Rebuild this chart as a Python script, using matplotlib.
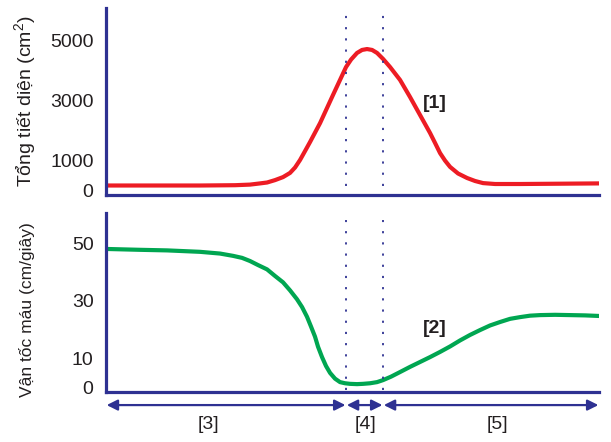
import matplotlib
matplotlib.use("Agg")
import matplotlib.pyplot as plt

plt.rcParams['font.family'] = ['Liberation Sans', 'DejaVu Sans']
plt.rcParams['mathtext.fontset'] = 'custom'
plt.rcParams['mathtext.rm'] = 'Liberation Sans'
plt.rcParams['mathtext.it'] = 'Liberation Sans'

# distance along the vessel tree (arbitrary units, 0..100)
x_area = [0, 19.07, 26.17, 29.21, 31.24, 32.66, 34.28, 35.90, 37.32, 38.34,
          39.35, 40.37, 41.38, 43.41, 46.04, 47.46, 48.68, 49.70, 50.91,
          51.93, 52.94, 53.96, 54.97, 56.19, 57.61, 59.63, 61.66, 63.69,
          65.72, 66.73, 67.75, 68.76, 69.78, 71.40, 73.23, 74.85, 76.47,
          78.90, 83.98, 92.09, 100]
# total cross-section (cm2)
area = [150, 150, 160, 180, 220, 250, 330, 430, 570, 750,
        1000, 1300, 1600, 2230, 3170, 3670, 4100, 4350, 4570,
        4670, 4700, 4670, 4570, 4370, 4100, 3670, 3100, 2500,
        1900, 1570, 1230, 980, 770, 550, 400, 300, 230,
        200, 200, 210, 220]

x_speed = [0, 6.90, 12.37, 19.07, 23.12, 25.76, 27.59, 29.21, 30.83, 32.66,
           34.28, 35.90, 37.32, 38.74, 39.76, 40.77, 41.58, 42.39, 43.00,
           43.81, 44.62, 45.44, 46.45, 47.46, 48.48, 49.49, 50.91, 52.13,
           53.55, 54.97, 56.19, 57.81, 59.63, 61.66, 63.69, 65.72, 67.75,
           69.78, 71.81, 73.83, 75.86, 77.89, 79.92, 81.95, 83.98, 86.00,
           88.03, 91.08, 94.12, 97.16, 100]
# blood speed (cm/s)
speed = [48.0, 47.7, 47.5, 47.0, 46.4, 45.6, 44.9, 43.8, 42.4, 40.9,
         38.6, 36.4, 33.6, 30.5, 27.8, 24.4, 21.0, 17.5, 14.0,
         10.4, 7.3, 4.9, 2.9, 1.7, 1.3, 1.1, 1.0, 1.1,
         1.3, 1.7, 2.4, 3.6, 5.2, 7.0, 8.7, 10.4, 12.2,
         14.1, 16.2, 18.1, 19.8, 21.4, 22.6, 23.7, 24.3, 24.8,
         25.0, 25.1, 25.0, 24.9, 24.7]

area_ticks = [0, 1000, 3000, 5000]
speed_ticks = [0, 10, 30, 50]
bounds = [0, 48.7, 56.2, 100]
region_labels = ['[3]', '[4]', '[5]']
region_label_x = [20.7, 52.7, 79.3]

navy = '#2e3192'
red = '#ed1c24'
green = '#00a651'
txt = '#231f20'

fig = plt.figure(figsize=(6.11, 4.42), dpi=100)
ax1 = fig.add_axes([0.1735, 0.5588, 0.807, 0.423])
ax2 = fig.add_axes([0.1735, 0.1131, 0.807, 0.405])

for ax in (ax1, ax2):
    for s in ('top', 'right'):
        ax.spines[s].set_visible(False)
    for s in ('left', 'bottom'):
        ax.spines[s].set_color(navy)
        ax.spines[s].set_linewidth(2.3)
    ax.set_xlim(0, 100)
    ax.set_xticks([])
    ax.tick_params(axis='y', length=0, pad=9, labelsize=14, labelcolor=txt)

ax1.plot(x_area, area, color=red, lw=3, solid_capstyle='butt')
ax1.set_ylim(-167, 6067)
ax1.set_yticks(area_ticks)
ax1.text(66.7, 2900, '[1]', fontsize=14, fontweight='bold', color=txt,
         ha='center', va='center')

ax2.plot(x_speed, speed, color=green, lw=3, solid_capstyle='butt')
ax2.set_ylim(-1.74, 60.5)
ax2.set_yticks(speed_ticks)
ax2.text(66.7, 20.5, '[2]', fontsize=14, fontweight='bold', color=txt,
         ha='center', va='center')

fig.text(0.041, 0.770, 'Tổng tiết diện (cm$^2$)', rotation=90, fontsize=14,
         color=txt, ha='center', va='center')
fig.text(0.044, 0.299, 'Vận tốc máu (cm/giây)', rotation=90, fontsize=12.5,
         color=txt, ha='center', va='center')

for b in bounds[1:3]:
    ax1.axvline(b, ymin=0.048, ymax=0.973, color=navy, lw=1.3,
                dashes=(1.2, 5.0))
    ax2.axvline(b, ymin=0.01, ymax=0.96, color=navy, lw=1.3,
                dashes=(1.2, 5.0))

for i, lab in enumerate(region_labels):
    x0, x1 = bounds[i], bounds[i + 1]
    ax2.annotate('', xy=(x1, -0.073), xytext=(x0, -0.073),
                 xycoords=('data', 'axes fraction'),
                 textcoords=('data', 'axes fraction'),
                 arrowprops=dict(arrowstyle='<|-|>', color=navy, lw=1.6,
                                 mutation_scale=16, shrinkA=0.5, shrinkB=0.5),
                 annotation_clip=False)
    ax2.text(region_label_x[i], -0.184, lab, fontsize=14, color=txt,
             ha='center', va='center', transform=ax2.get_xaxis_transform())

fig.savefig('out.png', dpi=100)
